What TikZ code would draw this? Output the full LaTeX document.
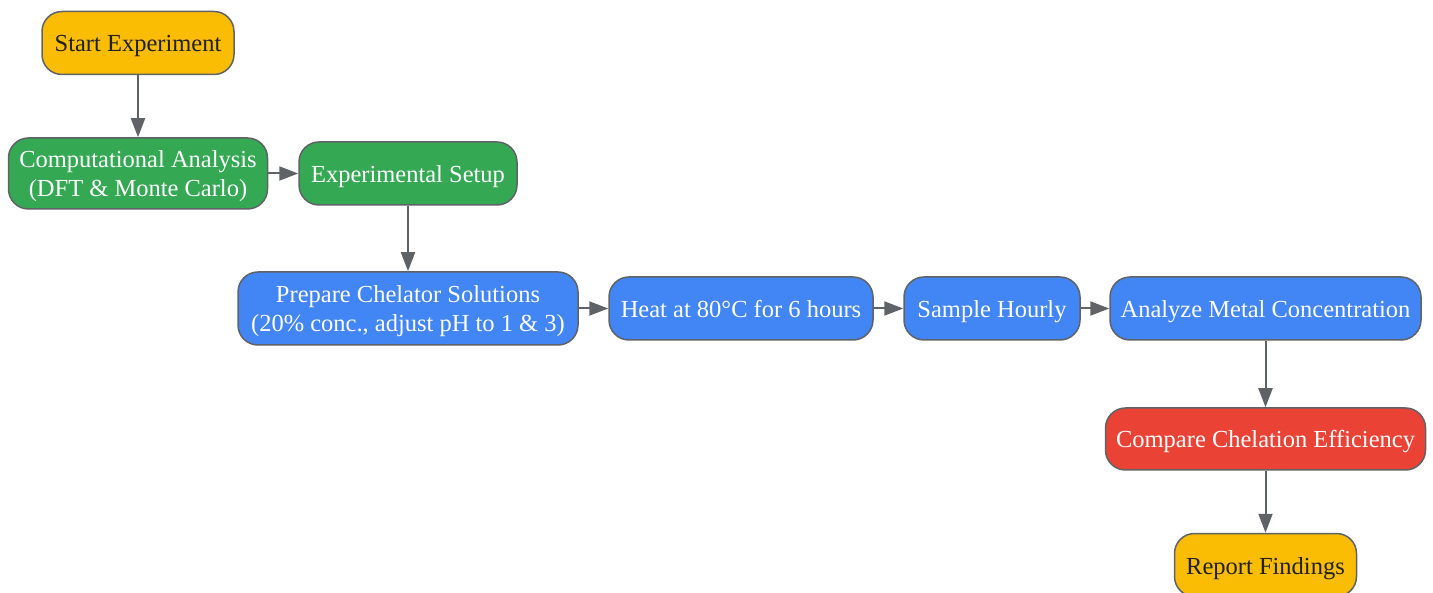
\documentclass[tikz,border=0pt]{standalone}
\usepackage{fontspec}
\setmainfont{Liberation Serif}
\usetikzlibrary{arrows.meta}
\definecolor{gyellow}{HTML}{FBBC04}
\definecolor{ggreen}{HTML}{34A853}
\definecolor{gblue}{HTML}{4285F4}
\definecolor{gred}{HTML}{EA4335}
\definecolor{lineg}{HTML}{5F6368}
\definecolor{darktext}{HTML}{202124}
\begin{document}
\begin{tikzpicture}[x=1pt,y=-1pt,
    twoline/.style={text depth=0pt}]

      \useasboundingbox (0,0) rectangle (1433,593);

      \begin{scope}[every node/.style={draw=lineg,line width=1.5pt,rounded corners=20pt,
          align=center,inner sep=0pt,text=white,minimum height=63pt,
          font=\fontsize{24.5}{29}\selectfont,
          execute at begin node={\rule{0pt}{25pt}},
          execute at end node={\rule[-7pt]{0pt}{0pt}}}]
        \node[fill=gyellow,text=darktext,minimum width=192pt] (1) at (138,43) {Start Experiment};
        \node[fill=ggreen,minimum width=259pt,minimum height=71pt,twoline] (2) at (138,173.5) {Computational Analysis\\(DFT \& Monte Carlo)};
        \node[fill=ggreen,minimum width=218pt] (3) at (408,173.5) {Experimental Setup};
        \node[fill=gblue,minimum width=340pt,minimum height=73pt,twoline] (4) at (408,308.5) {Prepare Chelator Solutions\\(20\% conc., adjust pH to 1 \& 3)};
        \node[fill=gblue,minimum width=264pt] (5) at (741,308.5) {Heat at 80°C for 6 hours};
        \node[fill=gblue,minimum width=176pt] (6) at (992,308.5) {Sample Hourly};
        \node[fill=gblue,minimum width=311pt] (7) at (1265.5,308.5) {Analyze Metal Concentration};
        \node[fill=gred,minimum width=320pt,minimum height=62pt] (8) at (1265.5,439) {Compare Chelation Efficiency};
        \node[fill=gyellow,text=darktext,minimum width=182pt] (9) at (1265.5,565) {Report Findings};
      \end{scope}

      \begin{scope}[every edge/.style={draw=lineg,line width=2pt,
          -{Triangle[length=19pt,width=14pt]}}]
        \path (1) edge (2);
        \path (2) edge (3);
        \path (3) edge (4);
        \path (4) edge (5);
        \path (5) edge (6);
        \path (6) edge (7);
        \path (7) edge (8);
        \path (8) edge (9);
      \end{scope}

    \end{tikzpicture}
\end{document}
